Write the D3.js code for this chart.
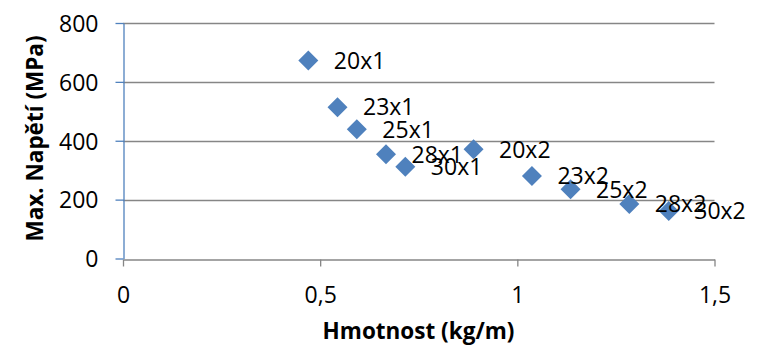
<!DOCTYPE html>
<html>
<head>
<meta charset="utf-8">
<script src="https://cdn.jsdelivr.net/npm/d3@7/dist/d3.min.js"></script>
<style>
  html, body { margin: 0; padding: 0; background: #ffffff; }
  svg { display: block; }
  text { font-family: "Open Sans", "Noto Sans", sans-serif; fill: #000; }
</style>
</head>
<body>
<svg id="chart" width="759" height="346"></svg>
<script>
// Profile designations (bar size x count)
const profiles = ["20x1", "23x1", "25x1", "28x1", "30x1", "20x2", "23x2", "25x2", "28x2", "30x2"];
// Mass per metre, kg/m
const mass = [0.470, 0.544, 0.593, 0.667, 0.716, 0.889, 1.037, 1.135, 1.284, 1.384];
// Maximum stress, MPa
const stress = [673, 514, 439, 354, 312, 371, 280, 235, 185, 161];

const xTicks = [0, 0.5, 1, 1.5];
const yTicks = [0, 200, 400, 600, 800];

const xTitle = "Hmotnost (kg/m)";
const yTitle = "Max. Napětí (MPa)";

const points = profiles.map((p, i) => ({ name: p, x: mass[i], y: stress[i] }));

const svg = d3.select("#chart");

const x = d3.scaleLinear().domain([0, 1.5]).range([123, 714.5]);
const y = d3.scaleLinear().domain([0, 800]).range([258.5, 23]);

const gridColor = "#868686";
const axisBlue = "#4F81BD";
const markerBlue = "#4F81BD";
const fmt = d => String(d).replace(".", ",");

// horizontal gridlines
svg.append("g")
  .selectAll("line")
  .data(yTicks.filter(t => t > 0))
  .join("line")
  .attr("x1", x(0)).attr("x2", x(1.5))
  .attr("y1", d => Math.round(y(d)) + 0.5).attr("y2", d => Math.round(y(d)) + 0.5)
  .attr("stroke", gridColor).attr("stroke-width", 1.3);

// x axis
const xAxis = svg.append("g")
  .attr("transform", `translate(0,${Math.round(y(0)) + 0.5})`)
  .call(d3.axisBottom(x).tickValues(xTicks).tickFormat(fmt).tickSize(7).tickPadding(14).tickSizeOuter(0));
xAxis.select(".domain").attr("stroke", gridColor).attr("stroke-width", 1.3);
xAxis.selectAll(".tick line").attr("stroke", gridColor).attr("stroke-width", 1.3);
xAxis.selectAll(".tick text")
  .attr("font-size", 23).attr("font-family", "Open Sans").attr("fill", "#000")
  .attr("dy", null).attr("y", 43.5);

// y axis
const yAxis = svg.append("g")
  .attr("transform", `translate(${Math.round(x(0)) + 0.5},0)`)
  .call(d3.axisLeft(y).tickValues(yTicks).tickFormat(d3.format("d")).tickSize(8).tickPadding(17).tickSizeOuter(0));
yAxis.select(".domain").attr("stroke", axisBlue).attr("stroke-width", 1.3);
yAxis.selectAll(".tick line").attr("stroke", axisBlue).attr("stroke-width", 1.3);
yAxis.selectAll(".tick text")
  .attr("font-size", 23).attr("font-family", "Open Sans").attr("fill", "#000")
  .attr("dy", "0.36em");

// diamond markers
const diamond = "M0,-10L10,0L0,10L-10,0Z";
svg.append("g")
  .selectAll("path")
  .data(points)
  .join("path")
  .attr("d", diamond)
  .attr("transform", d => `translate(${x(d.x)},${y(d.y)})`)
  .attr("fill", markerBlue);

// data labels
svg.append("g")
  .selectAll("text")
  .data(points)
  .join("text")
  .attr("x", d => x(d.x) + 25.5)
  .attr("y", d => y(d.y))
  .attr("dy", "0.36em")
  .attr("font-size", 23)
  .text(d => d.name);

// axis titles
svg.append("text")
  .attr("x", 418.5).attr("y", 339)
  .attr("text-anchor", "middle")
  .attr("font-weight", "bold").attr("font-size", 22.5)
  .text(xTitle);

svg.append("text")
  .attr("transform", "translate(43,138.5) rotate(-90)")
  .attr("text-anchor", "middle")
  .attr("font-weight", "bold").attr("font-size", 22.5)
  .text(yTitle);
</script>
</body>
</html>
